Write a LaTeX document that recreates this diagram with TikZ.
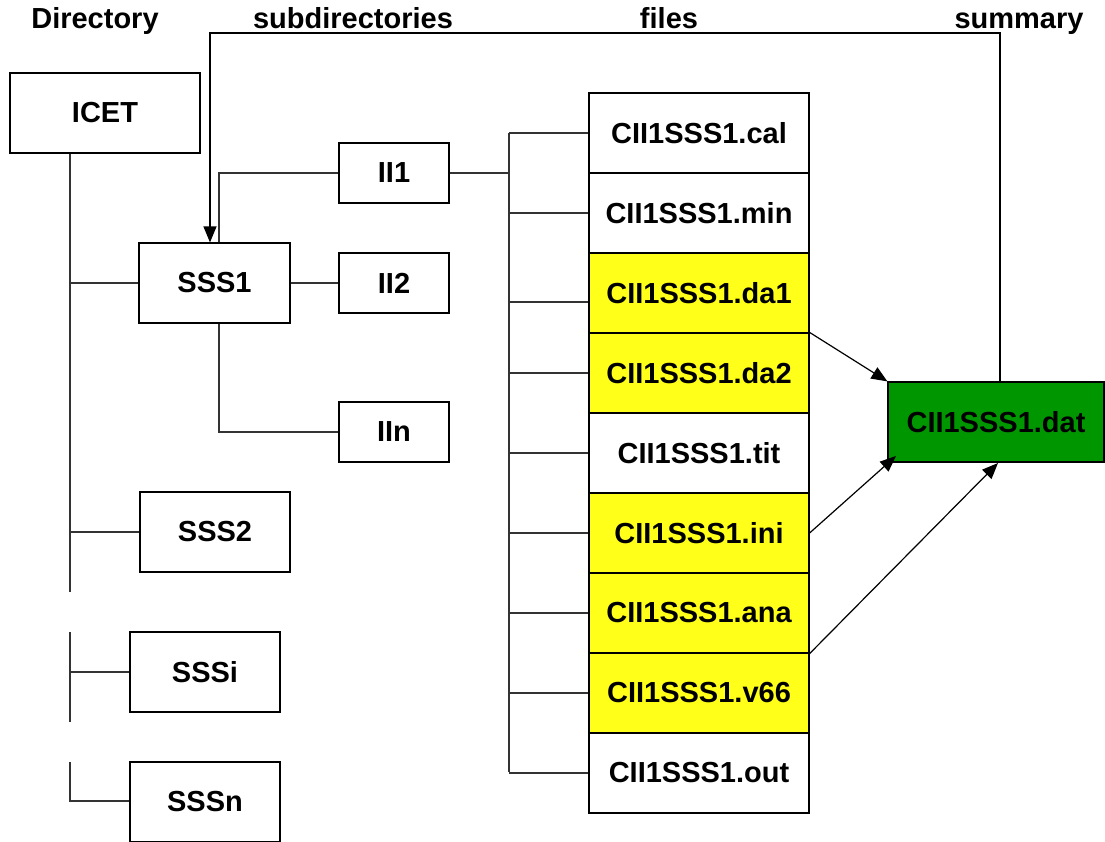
\documentclass[tikz,border=0pt]{standalone}
\usepackage{fontspec}
\setmainfont{Liberation Sans}
\usetikzlibrary{arrows.meta}
\definecolor{fileyellow}{RGB}{255,255,26}
\definecolor{datgreen}{RGB}{0,150,0}
\tikzset{
  hdr/.style={font=\fontsize{29}{34}\selectfont\bfseries, inner sep=0pt, anchor=base},
  box/.style={draw=black, line width=1.2pt, fill=white, inner sep=0pt,
              font=\fontsize{29}{34}\selectfont\bfseries},
  filebox/.style={box, minimum width=220pt, minimum height=80pt},
  ybox/.style={filebox, fill=fileyellow},
  conn/.style={draw=black!80, line width=1.2pt},
  arr/.style={draw=black, line width=1.2pt, -{Triangle[length=16pt,width=13pt]}},
}
\begin{document}
\begin{tikzpicture}[x=1pt,y=-1pt]
\useasboundingbox (0,0) rectangle (1105,841);
\fill[white] (0,0) rectangle (1105,841);

% headers
\node[hdr] (hDir) at (95,28) {Directory};
\node[hdr] (hSub) at (353,28) {subdirectories};
\node[hdr] (hFil) at (669,28) {files};
\node[hdr] (hSum) at (1019,28) {summary};

% directory boxes
\node[box, minimum width=190pt, minimum height=80pt] (ICET) at (105,113) {ICET};
\node[box, minimum width=151pt, minimum height=80pt] (SSS1) at (214.5,283) {SSS1};
\node[box, minimum width=150pt, minimum height=80pt] (SSS2) at (215,532) {SSS2};
\node[box, minimum width=150pt, minimum height=80pt] (SSSi) at (205,672) {SSSi};
\node[box, minimum width=150pt, minimum height=80pt] (SSSn) at (205,802) {SSSn};

\node[box, minimum width=110pt, minimum height=60pt] (II1) at (394,173) {II1};
\node[box, minimum width=110pt, minimum height=60pt] (II2) at (394,283) {II2};
\node[box, minimum width=110pt, minimum height=60pt] (IIn) at (394,432) {IIn};

% files
\node[filebox] (f1) at (699,133) {CII1SSS1.cal};
\node[filebox] (f2) at (699,213) {CII1SSS1.min};
\node[ybox] (f3) at (699,293) {CII1SSS1.da1};
\node[ybox] (f4) at (699,373) {CII1SSS1.da2};
\node[filebox] (f5) at (699,453) {CII1SSS1.tit};
\node[ybox] (f6) at (699,533) {CII1SSS1.ini};
\node[ybox] (f7) at (699,613) {CII1SSS1.ana};
\node[ybox] (f8) at (699,693) {CII1SSS1.v66};
\node[filebox] (f9) at (699,773) {CII1SSS1.out};

% summary
\node[box, fill=datgreen, minimum width=216pt, minimum height=80pt] (dat) at (996,422) {CII1SSS1.dat};

% coordinates for tree lines
\coordinate (t1) at (70,592);
\coordinate (t2a) at (70,632);
\coordinate (t2b) at (70,722);
\coordinate (t3a) at (70,762);
\coordinate (t3b) at (70,801);
\coordinate (s1) at (219,173);
\coordinate (sn) at (219,432);
\coordinate (v) at (509,173);
\coordinate (vtop) at (509,133);
\coordinate (vbot) at (509,772);
\coordinate (vda1) at (509,302);
\coordinate (loopR) at (1000,33);
\coordinate (loopL) at (210,33);
\coordinate (tipIni) at (896,456);
\coordinate (tipAna) at (998,463);

% directory tree
\draw[conn] (ICET.south -| t1) -- (t1);
\draw[conn] (SSS1.west -| t1) -- (SSS1.west);
\draw[conn] (SSS2.west -| t1) -- (SSS2.west);
\draw[conn] (t2a) -- (t2b);
\draw[conn] (SSSi.west -| t1) -- (SSSi.west);
\draw[conn] (t3a) -- (t3b) -- (SSSn.west |- t3b);

% subdirectory tree
\draw[conn] (SSS1.north -| s1) -- (s1) -- (II1.west);
\draw[conn] (SSS1.east) -- (II2.west);
\draw[conn] (SSS1.south -| sn) -- (sn) -- (IIn.west);

% files tree
\draw[conn] (II1.east) -- (v);
\draw[conn] (vtop) -- (vbot);
\draw[conn] (vtop) -- (f1.west |- vtop);
\draw[conn] (v |- f2.west) -- (f2.west);
\draw[conn] (vda1) -- (f3.west |- vda1);
\draw[conn] (v |- f4.west) -- (f4.west);
\draw[conn] (v |- f5.west) -- (f5.west);
\draw[conn] (v |- f6.west) -- (f6.west);
\draw[conn] (v |- f7.west) -- (f7.west);
\draw[conn] (v |- f8.west) -- (f8.west);
\draw[conn] (v |- f9.west) -- (f9.west);

% arrows to summary
\draw[arr] (f4.north east) -- (dat.north west);
\draw[arr] (f6.east) -- (tipIni);
\draw[arr] (f7.south east) -- (tipAna);

% loop back to SSS1
\draw[arr] (dat.north -| loopR) -- (loopR) -- (loopL) -- (SSS1.north -| loopL);
\end{tikzpicture}
\end{document}
